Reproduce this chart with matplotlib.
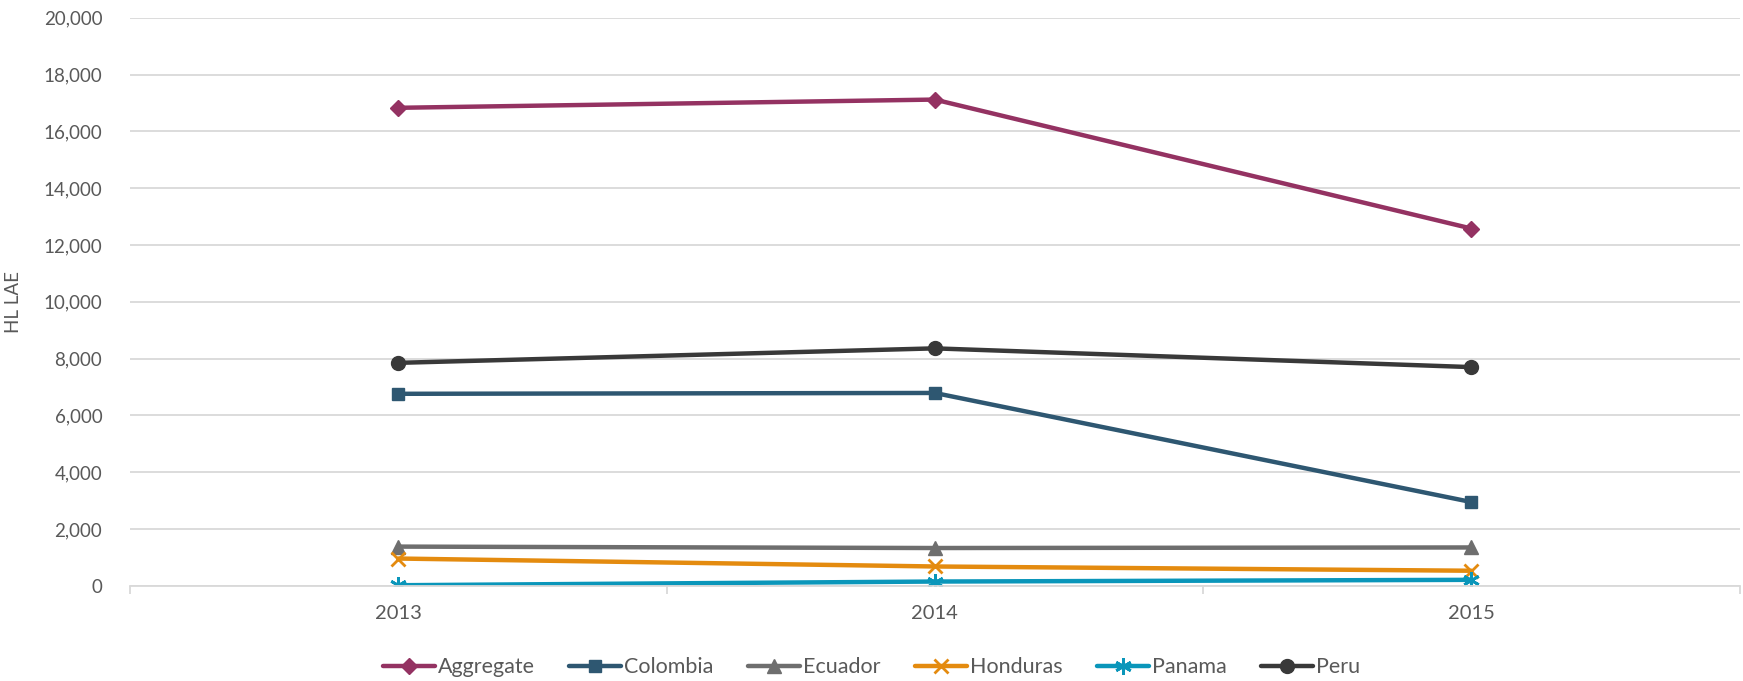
import matplotlib.pyplot as plt
from matplotlib.ticker import FuncFormatter, FixedLocator

plt.rcParams['font.family'] = ['Lato', 'DejaVu Sans']

years = ["2013", "2014", "2015"]
aggregate = [16830, 17120, 12580]
colombia = [6760, 6790, 2950]
ecuador = [1380, 1330, 1350]
honduras = [960, 680, 530]
panama = [20, 150, 210]
peru = [7850, 8360, 7700]

series = [
    ("Aggregate", aggregate, "#943262", "D", 8),
    ("Colombia", colombia, "#2E5771", "s", 9),
    ("Ecuador", ecuador, "#6E6E6E", "^", 10),
    ("Honduras", honduras, "#E48B0F", "x", 10),
    ("Panama", panama, "#0A96BA", (6, 2, 0), 12),
    ("Peru", peru, "#393939", "o", 10),
]

fig = plt.figure(figsize=(17.43, 6.81), dpi=100)
ax = fig.add_axes([0.0746, 0.1398, 0.9234, 0.8341])

x = list(range(len(years)))
for name, vals, color, marker, ms in series:
    ax.plot(x, vals, color=color, lw=3.2, marker=marker, markersize=ms,
            markeredgewidth=2 if marker in ("x", (6, 2, 0)) else 1,
            markerfacecolor=color, markeredgecolor=color, label=name,
            solid_capstyle="round")

ax.set_xlim(-0.5, len(years) - 0.5)
ax.set_ylim(0, 20000)
ax.set_yticks(range(0, 20001, 2000))
ax.yaxis.set_major_formatter(FuncFormatter(lambda v, p: f"{int(v):,}"))
ax.grid(axis="y", color="#D9D9D9", lw=1.3)
ax.set_axisbelow(True)

ax.set_xticks(x)
ax.set_xticklabels(years)
ax.xaxis.set_minor_locator(FixedLocator([i - 0.5 for i in range(len(years) + 1)]))
ax.tick_params(axis="x", which="major", length=0, pad=14, labelsize=14.5, colors="#595959")
ax.tick_params(axis="x", which="minor", length=6, color="#D9D9D9", width=1.3)
ax.tick_params(axis="y", length=0, pad=20, labelsize=13.5, colors="#595959")

for s in ["top", "right", "left"]:
    ax.spines[s].set_visible(False)
ax.spines["bottom"].set_color("#D9D9D9")
ax.spines["bottom"].set_linewidth(1.3)

ax.set_ylabel("HL LAE", fontsize=13.5, color="#595959")
ax.yaxis.set_label_coords(-0.067, 0.5)

fig.legend(loc="center", bbox_to_anchor=(0.5, 0.02), ncol=6, frameon=False,
           fontsize=15.5, handlelength=2.4, columnspacing=1.6, handletextpad=0.15,
           labelcolor="#595959")

fig.savefig("out.png", dpi=100)
